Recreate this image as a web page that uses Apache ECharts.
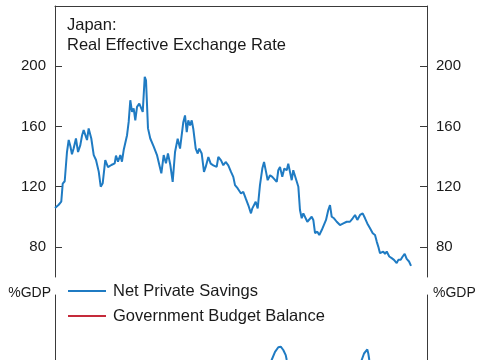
<!DOCTYPE html>
<html><head><meta charset="utf-8">
<script src="https://cdn.jsdelivr.net/npm/echarts@6/dist/echarts.min.js"></script>
<style>html,body{margin:0;padding:0;background:#fff;overflow:hidden}#c{width:485px;height:360px}</style>
</head><body><div id="c"></div>
<script>
// Japan: Real Effective Exchange Rate (top panel)
const reerYears = [1985.00,1985.41,1985.69,1985.85,1986.07,1986.32,1986.51,1986.69,1986.87,1987.06,1987.31,1987.54,1987.79,1987.98,1988.16,1988.34,1988.53,1988.71,1989.00,1989.27,1989.52,1989.82,1990.04,1990.26,1990.54,1990.84,1991.21,1991.58,1991.72,1991.94,1992.20,1992.38,1992.57,1992.75,1992.94,1993.12,1993.30,1993.49,1993.67,1993.85,1994.04,1994.29,1994.51,1994.67,1994.89,1995.03,1995.25,1995.50,1995.88,1996.24,1996.50,1996.72,1996.98,1997.23,1997.45,1997.71,1997.97,1998.23,1998.52,1998.78,1999.14,1999.33,1999.52,1999.69,1999.88,2000.07,2000.24,2000.51,2000.73,2000.90,2001.17,2001.42,2001.61,2001.90,2002.16,2002.45,2002.82,2003.00,2003.30,2003.55,2003.81,2004.10,2004.40,2004.65,2004.84,2005.14,2005.28,2005.50,2005.75,2006.02,2006.30,2006.60,2006.75,2006.97,2007.12,2007.34,2007.59,2007.85,2008.04,2008.26,2008.44,2008.70,2008.95,2009.17,2009.44,2009.61,2009.80,2010.05,2010.27,2010.54,2010.71,2010.90,2011.09,2011.26,2011.45,2011.82,2012.00,2012.19,2012.37,2012.55,2012.81,2013.03,2013.29,2013.47,2013.66,2013.91,2014.13,2014.40,2014.57,2014.87,2015.12,2015.31,2015.50,2015.75,2016.05,2016.41,2016.78,2017.15,2017.51,2017.81,2018.07,2018.32,2018.62,2018.91,2019.17,2019.42,2019.72,2020.02,2020.27,2020.46,2020.63,2020.82,2021.01,2021.18,2021.37,2021.56,2021.84,2022.11,2022.36,2022.66,2022.84,2023.10,2023.32,2023.54,2023.76,2024.02,2024.24];
const reerValues = [105.8,108,110,122,123.6,143,151,147,141.5,145.5,152,143,147.6,154,157.6,156.5,151,158.7,152,141,137.7,130,120,122.3,137.7,133,134.4,135.5,140.6,136.6,141,136.6,144.3,145.5,154.2,163,177.4,169.7,172,164,173,175.2,172,169.7,192.9,190.6,158.7,152,146.6,141,134.4,128.9,141,135.5,142.1,134.4,123.2,143,151.9,145.3,162.8,167.3,156.2,164,160.7,164,158.5,145.3,142,145.3,142,129.8,133.1,139.7,135.3,134.2,133.1,139.7,137.5,134.2,136.4,134.2,129.8,126.5,121,118.8,119.9,115.5,116.6,112.2,107.8,102.3,105.6,106.6,110,105.6,121,132,136.4,129.8,124.3,127.6,126.5,127.6,123.2,130.9,133.1,126.5,132,130.9,135.3,134.2,124.3,130.9,130.9,119.9,104.5,99,102.3,101.2,96.7,97.9,100,97.9,89.1,90.1,87.9,91.2,92.4,97.9,104.5,107.8,100,99,96.7,94.5,95.6,96.7,96.7,99,101.2,97.9,101.2,102.3,99,95.6,92.4,89.1,87.9,83.5,80.2,75.8,74.7,76.9,75.4,76.9,73.6,72.5,71.4,69.2,71.4,71.4,73.6,75.4,72,70.3,67.4];
const topTicks = [80, 120, 160, 200];

// Bottom panel (%GDP): only the visible tops of the savings line
const savingsYears = [2008.70,2008.88,2009.25,2009.61,2009.88,2010.16,2010.43,2010.54,2010.70,2014.00,2018.65,2018.80,2019.06,2019.28,2019.42,2019.53,2019.64,2019.80];
const savingsValues = [11.5,12.0,13.0,13.57,13.64,13.23,12.6,12.0,11.5,null,11.5,12.0,12.8,13.0,13.3,12.8,12.0,11.5];
const budgetYears = [];
const budgetValues = [];

const FONT = '"Liberation Sans", Arial, Helvetica, sans-serif';
const AX = '#3a3a3a';
const TXT = '#1a1a1a';
const BLUE = '#1f7bc3';
const RED = '#c52a3a';

const pair = (xs, ys) => xs.map((x, i) => [x, ys[i] === null ? '-' : ys[i]]);

function yAx(grid, pos, min, max, ticks, extra) {
  const hasTicks = ticks.length > 0;
  return Object.assign({
    type: 'value', gridIndex: grid, position: pos, min: min, max: max,
    axisLine: {show: true, onZero: false, lineStyle: {color: AX, width: 1}},
    axisTick: hasTicks ? {show: true, inside: true, length: 7, customValues: ticks, lineStyle: {color: AX}} : {show: false},
    axisLabel: hasTicks ? {customValues: ticks, margin: 9, fontSize: 15, color: TXT, fontFamily: FONT} : {show: false},
    splitLine: {show: false}
  }, extra || {});
}

const chart = echarts.init(document.getElementById('c'), null, {renderer: 'canvas'});
chart.setOption({
  animation: false,
  backgroundColor: '#fff',
  textStyle: {fontFamily: FONT},
  title: {
    text: 'Japan:\nReal Effective Exchange Rate', left: 62, top: 10,
    textStyle: {fontFamily: FONT, fontSize: 16.5, fontWeight: 'normal', color: TXT, lineHeight: 20}
  },
  legend: {
    data: ['Net Private Savings', 'Government Budget Balance'],
    left: 68, top: 282, padding: 0, orient: 'vertical', icon: 'rect', itemWidth: 38, itemHeight: 2, itemGap: 7,
    textStyle: {fontFamily: FONT, fontSize: 16.5, color: TXT, lineHeight: 18, padding: [0, 0, 0, 2]}
  },
  grid: [
    {left: 55, right: 58, top: 6, height: 271},
    {left: 55, right: 58, top: 295, height: 65}
  ],
  xAxis: [
    {type: 'value', gridIndex: 0, min: 1985, max: 2026, position: 'top',
     axisLine: {show: true, onZero: false, lineStyle: {color: AX, width: 1}},
     axisTick: {show: false}, axisLabel: {show: false}, splitLine: {show: false}},
    {type: 'value', gridIndex: 1, min: 1985, max: 2026, position: 'bottom',
     axisLine: {show: false, onZero: false}, axisTick: {show: false}, axisLabel: {show: false}, splitLine: {show: false}}
  ],
  yAxis: [
    yAx(0, 'left', 60, 240, topTicks),
    yAx(0, 'right', 60, 240, topTicks),
    yAx(1, 'left', 12, 20, [], {name: '%GDP', nameLocation: 'end', nameGap: 2,
      nameTextStyle: {fontFamily: FONT, fontSize: 14, color: TXT, align: 'right', verticalAlign: 'middle', padding: [0, 4, 0, 0]}}),
    yAx(1, 'right', 12, 20, [], {name: '%GDP', nameLocation: 'end', nameGap: 2,
      nameTextStyle: {fontFamily: FONT, fontSize: 14, color: TXT, align: 'left', verticalAlign: 'middle', padding: [0, 0, 0, 6]}})
  ],
  series: [
    {type: 'line', name: 'Real Effective Exchange Rate', xAxisIndex: 0, yAxisIndex: 0,
     data: pair(reerYears, reerValues), symbol: 'none', lineStyle: {color: BLUE, width: 2}, itemStyle: {color: BLUE}},
    {type: 'line', name: 'Net Private Savings', xAxisIndex: 1, yAxisIndex: 2,
     data: pair(savingsYears, savingsValues), symbol: 'none', connectNulls: false,
     lineStyle: {color: BLUE, width: 2}, itemStyle: {color: BLUE}},
    {type: 'line', name: 'Government Budget Balance', xAxisIndex: 1, yAxisIndex: 2,
     data: pair(budgetYears, budgetValues), symbol: 'none',
     lineStyle: {color: RED, width: 2}, itemStyle: {color: RED}}
  ]
});
</script>
</body></html>
